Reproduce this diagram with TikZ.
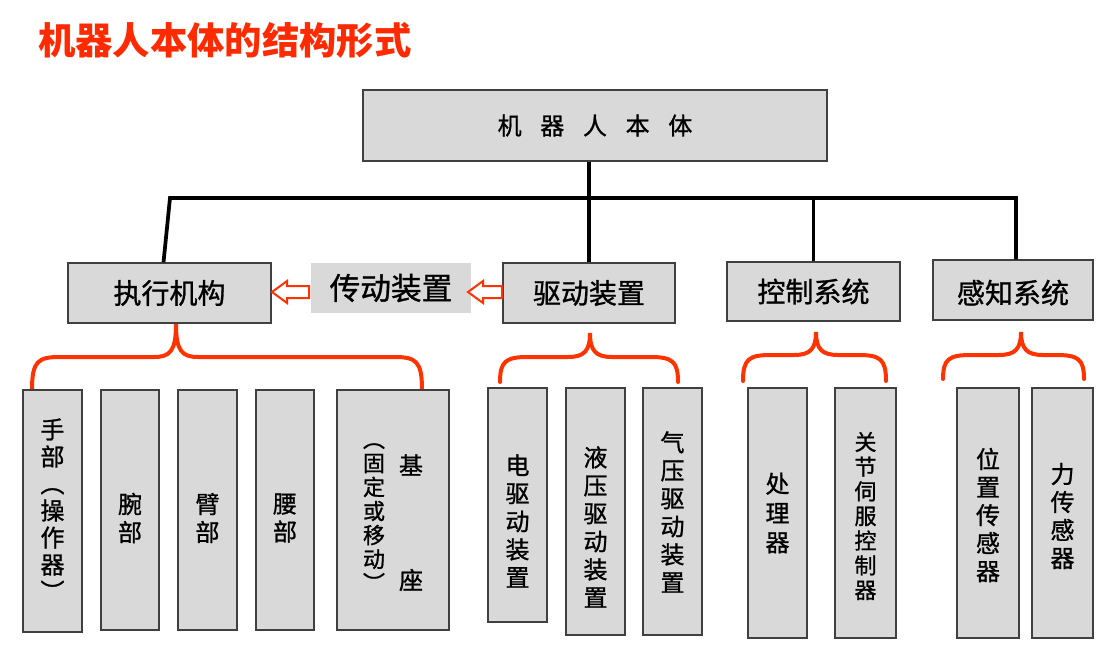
\documentclass[tikz,border=0pt]{standalone}
\usepackage{fontspec}
\setmainfont{Noto Sans CJK SC}[UprightFeatures={FakeBold=1}]
\usetikzlibrary{fit,calc}
\definecolor{boxgray}{HTML}{D9D9D9}
\definecolor{tred}{HTML}{FF2A00}
\definecolor{bred}{HTML}{FF3300}
\newcommand\curlybrace[6]{%
  \draw[brace] (#1,#6) .. controls (#1,#5+4) and (#1+6,#5) .. (#1+28,#5)
    -- (#2-22,#5) .. controls (#2-6,#5) and (#2,#5-6) .. (#2,#4)
    .. controls (#2,#5-6) and (#2+6,#5) .. (#2+22,#5)
    -- (#3-28,#5) .. controls (#3-6,#5) and (#3,#5+4) .. (#3,#6);}
\newcommand\vlp{\rotatebox[origin=c]{-90}{（}}
\newcommand\vrp{\rotatebox[origin=c]{-90}{）}}
\begin{document}
\begin{tikzpicture}[x=0.75pt,y=-0.75pt,
  box/.style={draw=black!75, line width=0.9pt, fill=boxgray, inner sep=0pt},
  plainbox/.style={fill=boxgray, inner sep=0pt},
  conn/.style={line width=2.8pt, black},
  brace/.style={line width=3pt, bred, line cap=round},
  hollow/.style={draw=bred, fill=white, line width=1.5pt, line join=miter},
  mid/.style={inner sep=0pt, font=\fontsize{21pt}{21pt}\selectfont},
  vt/.style={align=center, inner sep=0pt, font=\fontsize{18pt}{21pt}\selectfont},
]
\useasboundingbox (0,0) rectangle (1116,653);
\node[anchor=west, text=tred, inner sep=0pt,
  font=\fontsize{28pt}{28pt}\selectfont\bfseries] (title) at (38,40) {机器人本体的结构形式};

% top box
\node[box, fit={(363,90) (827,161)}] (top) {};
\node[inner sep=0pt, font=\fontsize{18pt}{18pt}\selectfont] at (top.center)
  {机\hspace{14pt}器\hspace{14pt}人\hspace{14pt}本\hspace{14pt}体};

% middle row
\node[box, fit={(68,263) (271,323)}] (exe) {};
\node[mid] at (exe.center) {执行机构};
\node[plainbox, fit={(311,263) (471,313)}] (tra) {};
\node[mid, font=\fontsize{23pt}{23pt}\selectfont] at (tra.center) {传动装置};
\node[box, fit={(503,263) (675,323)}] (drv) {};
\node[mid] at (drv.center) {驱动装置};
\node[box, fit={(727,262) (900,321)}] (ctl) {};
\node[mid] at (ctl.center) {控制系统};
\node[box, fit={(933,260) (1093,320)}] (sen) {};
\node[mid] at ([yshift=-2pt]sen.center) {感知系统};

% connectors
\coordinate (hl) at (170,198);
\coordinate (hr) at (1016,198);
\draw[conn] ([xshift=-4.5pt]exe.north) -- (hl) -- (hr) -- (hr |- sen.north);
\draw[conn] (top.south -| drv.north) -- (drv.north);
\draw[conn] (ctl.north |- hl) -- (ctl.north);

% hollow arrows
\draw[hollow] (272,292) -- (287,281) -- (287,286) -- (309,286) -- (309,298)
  -- (287,298) -- (287,303) -- cycle;
\draw[hollow] (468,292) -- (483,281) -- (483,286) -- (502,286) -- (502,298)
  -- (483,298) -- (483,303) -- cycle;

% braces
\curlybrace{32}{176}{422}{324}{357}{390}
\curlybrace{500}{590}{678}{333}{357}{382}
\curlybrace{743}{816}{886}{332}{355}{381}
\curlybrace{943}{1021}{1084}{332}{355}{379}

% bottom boxes
\node[box, fit={(23,390) (82,632)}] (b1) {};
\node[box, fit={(101,390) (159,630)}] (b2) {};
\node[box, fit={(178,390) (237,630)}] (b3) {};
\node[box, fit={(256,390) (314,630)}] (b4) {};
\node[box, fit={(337,390) (449,630)}] (b5) {};
\node[box, fit={(488,388) (547,622)}] (b6) {};
\node[box, fit={(566,388) (625,635)}] (b7) {};
\node[box, fit={(643,388) (702,635)}] (b8) {};
\node[box, fit={(748,388) (807,638)}] (b9) {};
\node[box, fit={(835,388) (896,638)}] (b10) {};
\node[box, fit={(957,388) (1019,638)}] (b11) {};
\node[box, fit={(1032,388) (1093,638)}] (b12) {};

% bottom texts
\node[vt, font=\fontsize{18pt}{20.25pt}\selectfont] (t1) at (b1 |- 0,511) {手\\部\\\vlp\\操\\作\\器\\\vrp};
\node[vt] (t2) at (b2 |- 0,518) {腕\\部};
\node[vt] (t3) at (b3 |- 0,518) {臂\\部};
\node[vt] (t4) at (b4 |- 0,518) {腰\\部};
\node[vt] (t5a) at (411,465) {基};
\node[vt] (t5b) at (411,580) {座};
\node[vt, font=\fontsize{16.5pt}{18pt}\selectfont] (t5c) at (374,511) {\vlp\\固\\定\\或\\移\\动\\\vrp};
\node[vt] (t6) at (b6 |- 0,521) {电\\驱\\动\\装\\置};
\node[vt] (t7) at (b7 |- 0,527) {液\\压\\驱\\动\\装\\置};
\node[vt] (t8) at (b8 |- 0,512) {气\\压\\驱\\动\\装\\置};
\node[vt, font=\fontsize{18pt}{22pt}\selectfont] (t9) at (b9 |- 0,513) {处\\理\\器};
\node[vt, font=\fontsize{16.5pt}{18.5pt}\selectfont] (t10) at (b10 |- 0,516) {关\\节\\伺\\服\\控\\制\\器};
\node[vt] (t11) at (b11 |- 0,515) {位\\置\\传\\感\\器};
\node[vt] (t12) at (b12 |- 0,516) {力\\传\\感\\器};
\end{tikzpicture}
\end{document}
